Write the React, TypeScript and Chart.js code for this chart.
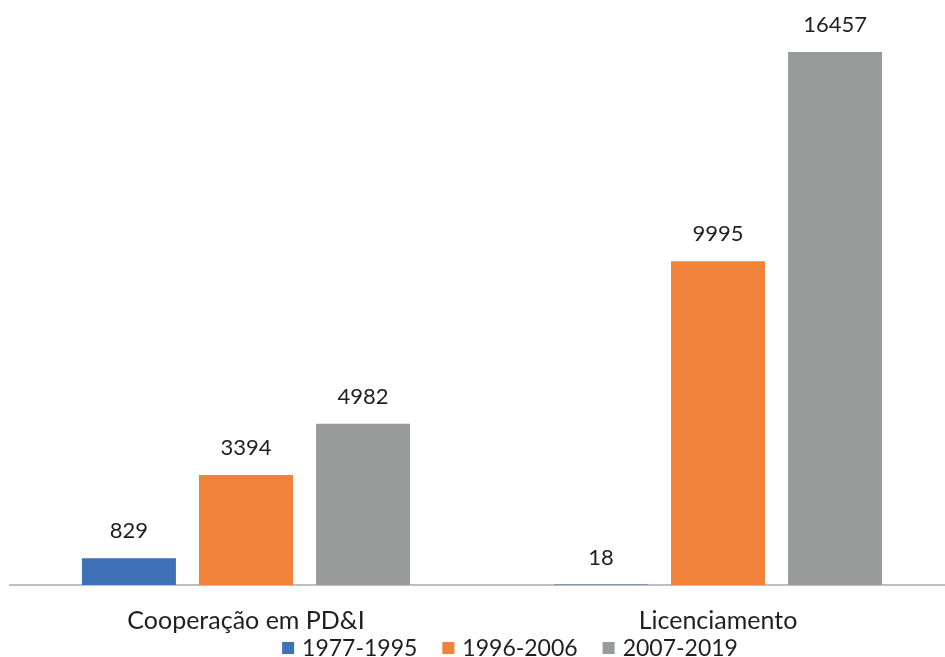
import React, { useEffect, useRef } from "react";
import { Chart, registerables } from "chart.js";

Chart.register(...registerables);

const categories = ["Cooperação em PD&I", "Licenciamento"];
const seriesLabels = ["1977-1995", "1996-2006", "2007-2019"];
const series1977 = [829, 18];
const series1996 = [3394, 9995];
const series2007 = [4982, 16457];
const seriesColors = ["#3E71B7", "#F0823A", "#999B9B"];
const yMax = 18000;

const FONT = "Lato, 'Open Sans', sans-serif";

const valueLabels = {
  id: "valueLabels",
  afterDatasetsDraw(chart: any) {
    const ctx = chart.ctx;
    ctx.save();
    ctx.font = `22px ${FONT}`;
    ctx.fillStyle = "#1F1F1F";
    ctx.textAlign = "center";
    ctx.textBaseline = "middle";
    chart.data.datasets.forEach((ds: any, i: number) => {
      const meta = chart.getDatasetMeta(i);
      meta.data.forEach((el: any, j: number) => {
        ctx.fillText(String(ds.data[j]), el.x, el.y - 27);
      });
    });
    ctx.restore();
  },
};

const customLegend = {
  id: "customLegend",
  afterDraw(chart: any) {
    const ctx = chart.ctx;
    ctx.save();
    ctx.font = `23px ${FONT}`;
    ctx.textBaseline = "middle";
    ctx.textAlign = "left";
    const box = 12;
    const gapBoxText = 8;
    const gapItems = 25;
    const items = chart.data.datasets.map((ds: any) => ({
      label: ds.label,
      color: ds.backgroundColor,
      w: box + gapBoxText + ctx.measureText(ds.label).width,
    }));
    const total = items.reduce((s: number, it: any) => s + it.w, 0) + gapItems * (items.length - 1);
    let x = 510 - total / 2;
    const y = 648;
    items.forEach((it: any) => {
      ctx.fillStyle = it.color;
      ctx.fillRect(x, y - box / 2, box, box);
      ctx.fillStyle = "#1F1F1F";
      ctx.fillText(it.label, x + box + gapBoxText, y + 1);
      x += it.w + gapItems;
    });
    ctx.restore();
  },
};

export default function App() {
  const ref = useRef<HTMLCanvasElement>(null);
  useEffect(() => {
    if (!ref.current) return;
    const chart = new Chart(ref.current, {
      type: "bar",
      data: {
        labels: categories,
        datasets: [
          { label: seriesLabels[0], data: series1977, backgroundColor: seriesColors[0] },
          { label: seriesLabels[1], data: series1996, backgroundColor: seriesColors[1] },
          { label: seriesLabels[2], data: series2007, backgroundColor: seriesColors[2] },
        ],
      },
      options: {
        responsive: false,
        animation: false,
        devicePixelRatio: 1,
        layout: { padding: { left: 10, right: 0, top: 2, bottom: 0 } },
        datasets: {
          bar: { categoryPercentage: 0.744, barPercentage: 0.803 },
        },
        plugins: {
          legend: { display: false },
          tooltip: { enabled: false },
          title: { display: false },
        },
        scales: {
          x: {
            grid: { display: false, drawTicks: false },
            border: { display: true, color: "#BFBFBF", width: 2 },
            ticks: {
              color: "#1F1F1F",
              font: { family: FONT, size: 25 },
              padding: 21,
            },
          },
          y: {
            display: false,
            min: 0,
            max: yMax,
          },
        },
      },
      plugins: [valueLabels, customLegend],
    });
    return () => chart.destroy();
  }, []);
  return (
    <div
      style={{
        position: "fixed",
        left: 0,
        top: 0,
        width: 945,
        height: 657,
        overflow: "hidden",
        background: "#fff",
      }}
    >
      <canvas ref={ref} width={954} height={657} style={{ display: "block" }} />
    </div>
  );
}
